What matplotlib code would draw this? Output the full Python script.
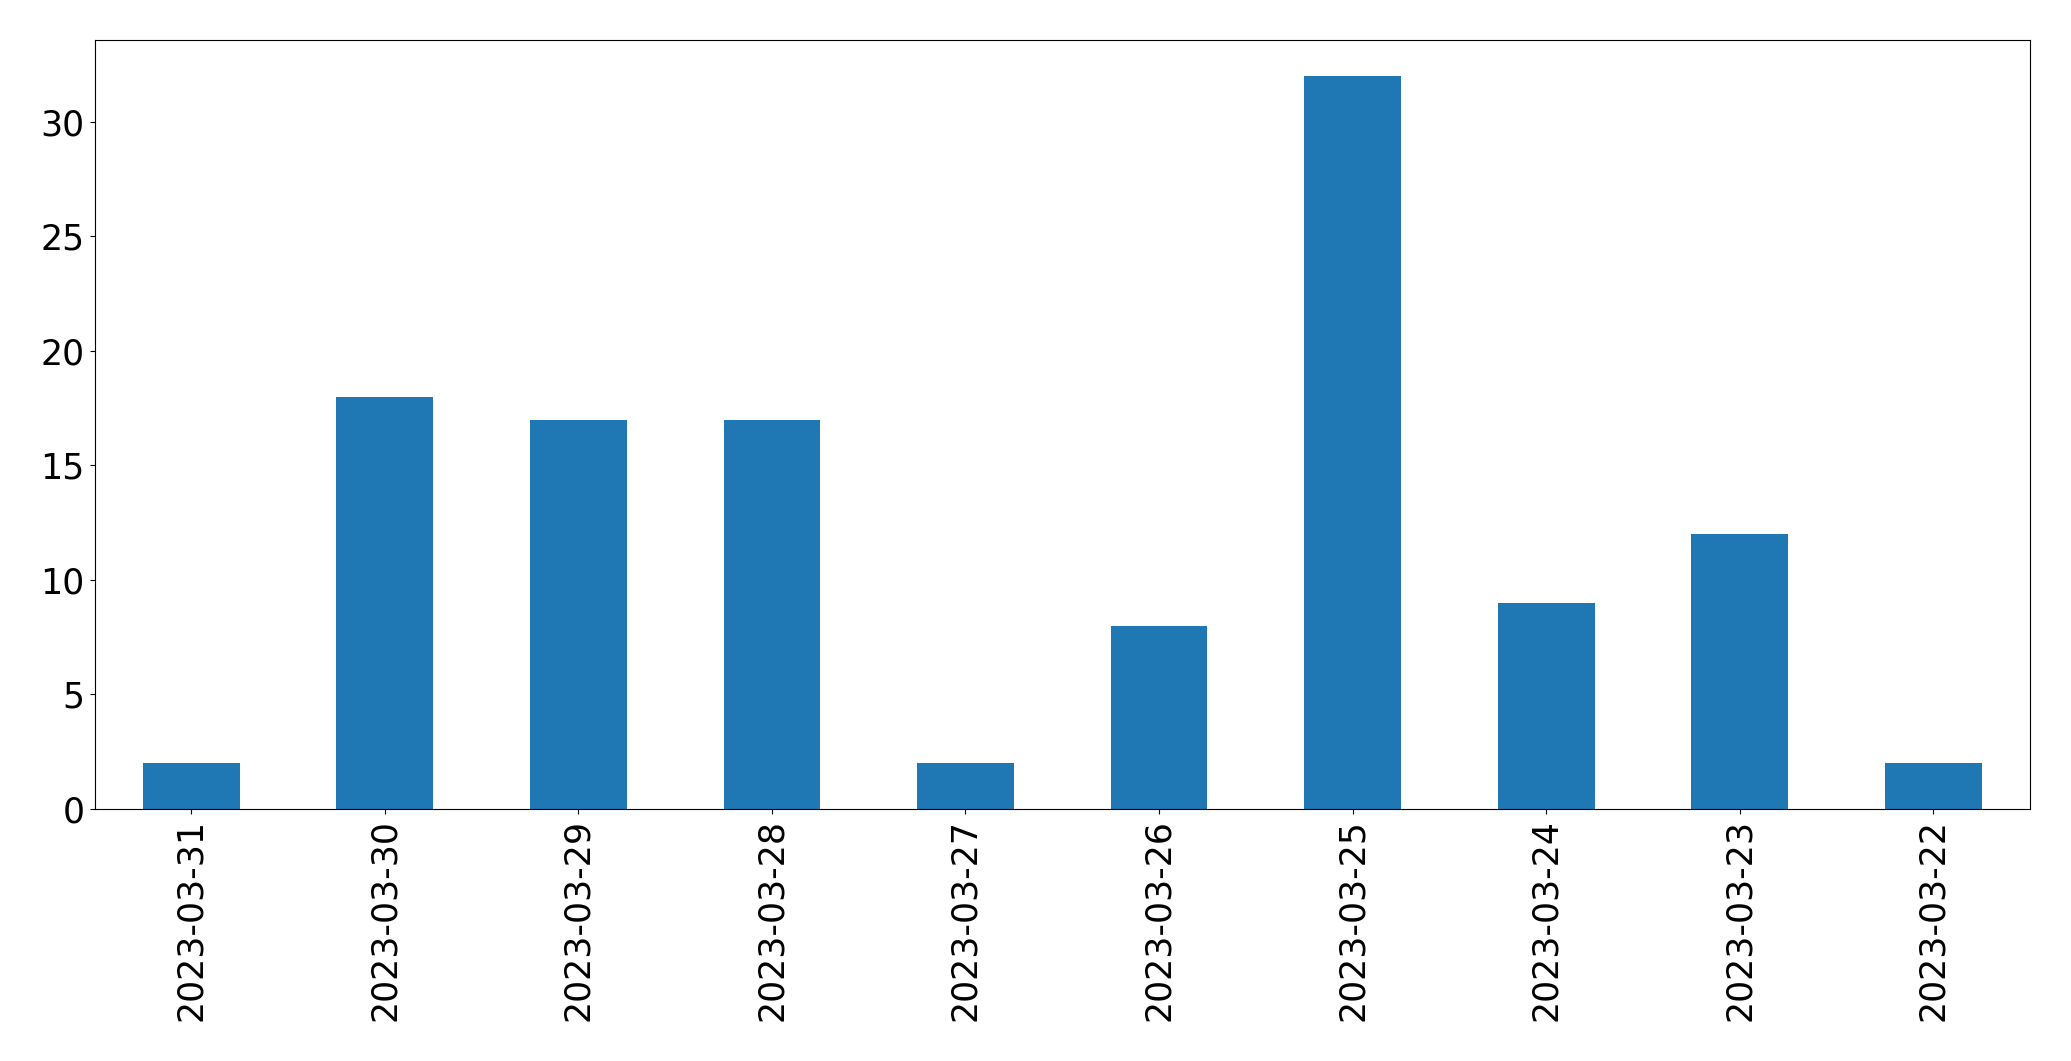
import matplotlib
matplotlib.use("Agg")
import matplotlib.pyplot as plt
import pandas as pd

dates = ["2023-03-31", "2023-03-30", "2023-03-29", "2023-03-28", "2023-03-27",
         "2023-03-26", "2023-03-25", "2023-03-24", "2023-03-23", "2023-03-22"]
counts = [2, 18, 17, 17, 2, 8, 32, 9, 12, 2]

s = pd.Series(counts, index=dates)

fig = plt.figure(figsize=(20.71, 10.61), dpi=100)
ax = fig.add_subplot(111)
s.plot(kind="bar", ax=ax, fontsize=25, color="#1f77b4")
fig.subplots_adjust(left=94.5 / 2071, right=2030 / 2071, top=1 - 39.5 / 1061, bottom=1 - 809 / 1061)

fig.savefig("out.png", dpi=100)
